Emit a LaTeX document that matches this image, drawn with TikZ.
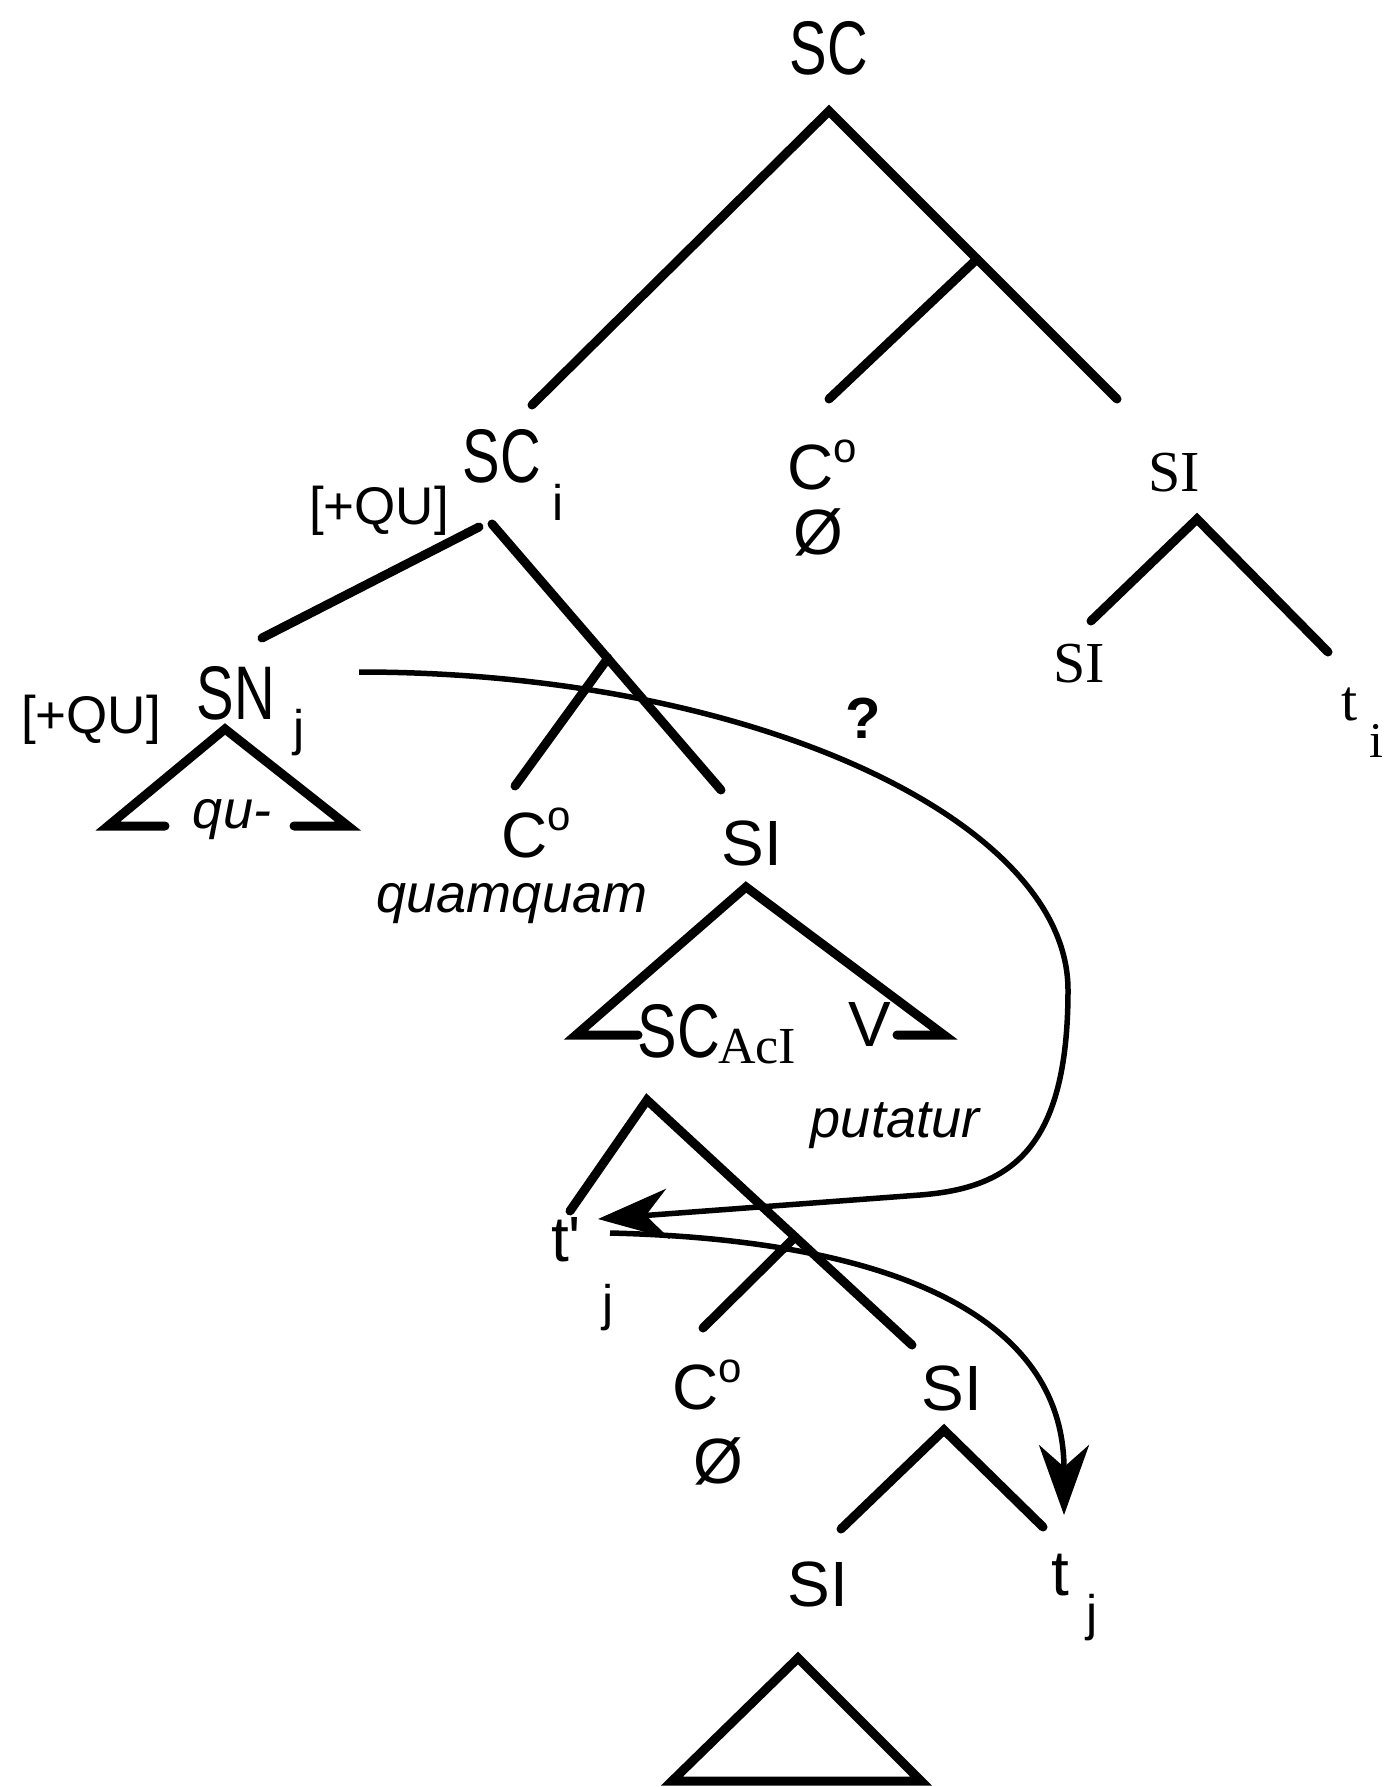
\documentclass[tikz,border=0pt]{standalone}
\usepackage{fontspec}
\setmainfont{Liberation Sans}
\newfontfamily\seriffont{Liberation Serif}
\usetikzlibrary{arrows.meta}
\newcommand{\fsz}[1]{\fontsize{#1}{#1}\selectfont}
\newcommand{\condSC}[1]{\scalebox{0.74}[1]{#1}}
\newcommand{\supo}{\raisebox{0.42em}{\fsz{42}o}}
\begin{document}
\begin{tikzpicture}[x=1pt,y=-1pt,
  br/.style={line width=9pt, line cap=round, line join=miter},
  mv/.style={line width=5.5pt, -{Stealth[length=70pt,width=50pt,inset=22pt]}},
  lab/.style={inner sep=0pt, font=\fsz{64}},
  big/.style={inner sep=0pt, font=\fsz{76}},
  slab/.style={inner sep=0pt, font=\fsz{58}\seriffont},
  sub/.style={inner sep=0pt, font=\fsz{50}},
  qu/.style={inner sep=0pt, font=\fsz{53}},
  it/.style={inner sep=0pt, font=\fsz{54}\itshape}]
\fill[white] (0,0) rectangle (1387,1787);
\useasboundingbox (0,0) rectangle (1387,1787);
% top SC
\node[big] (sc) at (829,48) {\condSC{SC}};
\coordinate (a0) at (829,111);
\coordinate (l0) at (532,405);
\coordinate (r0) at (1117,399);
\coordinate (b0) at (977,259);
\coordinate (c0e) at (829,399);
\draw[br] (l0) -- (a0) -- (r0);
\draw[br] (b0) -- (c0e);
% C0 top
\node[lab] (c1) at (822,465) {C\supo};
\node[lab] (null1) at (818,532) {Ø};
% SI right
\node[slab] (si1) at (1174,473) {SI};
\coordinate (a1) at (1197,519);
\coordinate (l1) at (1091,621);
\coordinate (r1) at (1328,652);
\draw[br] (l1) -- (a1) -- (r1);
\node[slab] (si2) at (1079,664) {SI};
\node[slab] (ti) at (1350,704) {t};
\node[inner sep=0pt, font=\fsz{50}\seriffont] (tii) at (1376,741) {i};
% SC_i
\node[big] (sci) at (502,456) {\condSC{SC}};
\node[sub] (scii) at (558,502) {i};
\node[qu] (qu1) at (379,511) {[+QU]};
\coordinate (a2l) at (479,527);
\coordinate (l2) at (262,638);
\coordinate (a2r) at (492,524);
\coordinate (r2) at (721,790);
\coordinate (b2) at (608,658);
\coordinate (c2e) at (515,786);
\draw[br] (l2) -- (a2l);
\draw[br] (a2r) -- (r2);
\draw[br] (b2) -- (c2e);
% SN_j
\node[big] (sn) at (236,693) {\condSC{SN}};
\node[sub] (snj) at (299,733) {j};
\node[qu] (qu2) at (91,720) {[+QU]};
\draw[br] (165,826) -- (108,826) -- (225,729) -- (348,826) -- (294,826);
\node[it] (qum) at (232,820) {qu-};
% C0 and SI middle
\node[lab] (c2) at (536,833) {C\supo};
\node[it] (quam) at (512,904) {quamquam};
\node[lab] (si3) at (752,843) {SI};
\draw[br] (638,1035) -- (576,1035) -- (746,887) -- (944,1035) -- (897,1035);
\node[big] (scacl) at (679,1031) {\scalebox{0.78}[1]{SC}};
\node[inner sep=0pt, font=\fsz{52}\seriffont] (acl) at (757,1047) {AcI};
\node[lab] (v) at (870,1024) {V};
\node[it] (put) at (895,1126) {putatur};
\node[inner sep=0pt, font=\fsz{58}\bfseries] (q) at (863,718) {?};
% lower tree
\coordinate (a3) at (647,1100);
\coordinate (l3) at (570,1211);
\coordinate (r3) at (912,1345);
\coordinate (b3) at (795,1237);
\coordinate (c3e) at (703,1328);
\draw[br] (l3) -- (a3) -- (r3);
\draw[br] (b3) -- (c3e);
\node[lab] (tp) at (566,1240) {t\textquotesingle};
\node[sub] (tpj) at (608,1308) {j};
\node[lab] (c3) at (707,1385) {C\supo};
\node[lab] (null2) at (718,1461) {Ø};
\node[lab] (si4) at (952,1388) {SI};
\coordinate (a4) at (944,1430);
\coordinate (l4) at (841,1529);
\coordinate (r4) at (1043,1527);
\draw[br] (l4) -- (a4) -- (r4);
\node[lab] (si5) at (818,1584) {SI};
\node[lab] (tj) at (1060,1575) {t};
\node[sub] (tjj) at (1092,1618) {j};
\draw[br] (672,1781) -- (798,1658) -- (921,1781) -- cycle;
% movement arrows
\coordinate (m1s) at (359,672);
\coordinate (m1e) at (598,1219);
\draw[mv] (m1s) .. controls (750,672) and (1068,820) .. (1068,990)
  .. controls (1068,1150) and (1010,1188) .. (920,1195) -- (m1e);
\coordinate (m2s) at (610,1233);
\coordinate (m2e) at (1064,1515);
\draw[mv] (m2s) .. controls (900,1240) and (1064,1320) .. (m2e);
\end{tikzpicture}
\end{document}
